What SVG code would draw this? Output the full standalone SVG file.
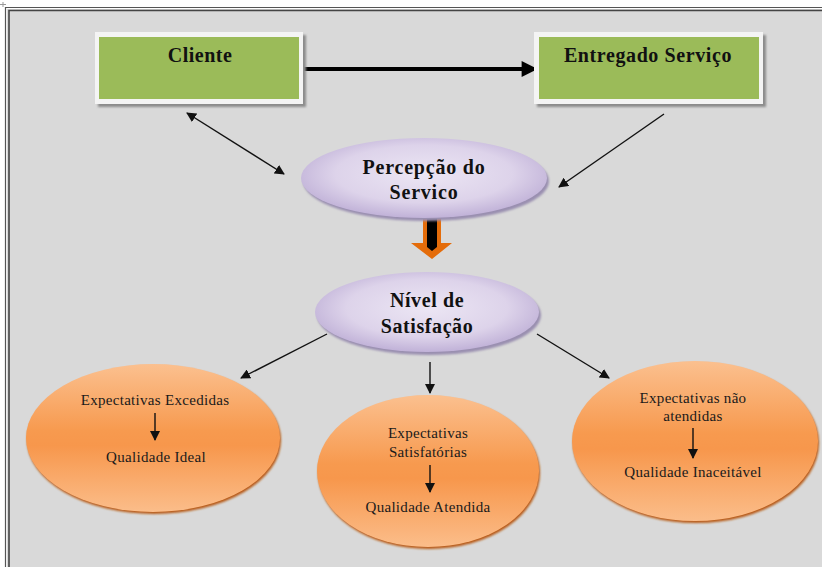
<svg xmlns="http://www.w3.org/2000/svg" width="822" height="567" viewBox="0 0 822 567">
  <defs>
    <style>
      .title { font-family: "Liberation Serif", "Times New Roman", serif; font-weight: bold; font-size: 20px; fill: #111; text-anchor: middle; }
      .small { font-family: "Liberation Serif", "Times New Roman", serif; font-size: 15px; fill: #1a1a1a; text-anchor: middle; letter-spacing: 0.3px; }
      .thin { stroke: #111; stroke-width: 1.4; fill: none; }
    </style>
    <radialGradient id="lav" cx="50%" cy="45%" r="60%">
      <stop offset="0" stop-color="#ece6f4"/>
      <stop offset="0.6" stop-color="#ddd3ea"/>
      <stop offset="1" stop-color="#b9a9d3"/>
    </radialGradient>
    <linearGradient id="orange" x1="0" y1="0" x2="0" y2="1">
      <stop offset="0" stop-color="#fbc08f"/>
      <stop offset="0.45" stop-color="#f79a4f"/>
      <stop offset="0.55" stop-color="#f7974c"/>
      <stop offset="1" stop-color="#fbbd8a"/>
    </linearGradient>
    <filter id="sh" x="-10%" y="-10%" width="130%" height="130%">
      <feGaussianBlur stdDeviation="1.2"/>
    </filter>
    <marker id="ah" viewBox="0 0 10 10" refX="9" refY="5" markerWidth="10" markerHeight="10" markerUnits="userSpaceOnUse" orient="auto-start-reverse">
      <path d="M0,0 L10,5 L0,10 z" fill="#111"/>
    </marker>
    <marker id="ahBig" viewBox="0 0 10 10" refX="9" refY="5" markerWidth="4.5" markerHeight="4" orient="auto">
      <path d="M0,0 L10,5 L0,10 z" fill="#000"/>
    </marker>
  </defs>

  <!-- page background and frame -->
  <rect x="0" y="0" width="822" height="567" fill="#ffffff"/>
  <rect x="7" y="9" width="815" height="558" fill="#d9d9d9"/>
  <path d="M5.5,567 V7.5 H822" stroke="#555" stroke-width="1.2" fill="none"/>
  <path d="M9,567 V10.5 H822" stroke="#444" stroke-width="1.6" fill="none"/>
  <path d="M0,4.5 H6 M3,2 V7" stroke="#999" stroke-width="1"/>

  <!-- connectors -->
  <g id="connectors">
    <line x1="303" y1="69" x2="536" y2="69" stroke="#000" stroke-width="4" marker-end="url(#ahBig)"/>
    <line class="thin" x1="187" y1="113" x2="284" y2="174" marker-start="url(#ah)" marker-end="url(#ah)"/>
    <line class="thin" x1="664" y1="114" x2="559" y2="187" marker-end="url(#ah)"/>
    <line class="thin" x1="327" y1="334" x2="241" y2="378" marker-end="url(#ah)"/>
    <line class="thin" x1="430" y1="362" x2="430" y2="393" marker-end="url(#ah)"/>
    <line class="thin" x1="537" y1="334" x2="609" y2="378" marker-end="url(#ah)"/>
    <!-- block arrow between the two ellipses -->
    <path d="M423,216 H441 V243 H452 L432,259 L411,243 H423 Z" fill="#e46c0a"/>
    <path d="M427,217 H437 V247 L432,251 L427,247 Z" fill="#000"/>
  </g>

  <!-- Cliente -->
  <g id="cliente">
    <rect x="98" y="35" width="208" height="72" fill="#8c8c8c" filter="url(#sh)"/>
    <rect x="95" y="32" width="208" height="72" fill="#f4f4f4"/>
    <rect x="99" y="37" width="200" height="62" fill="#9bbb59"/>
    <text class="title" x="200" y="62" letter-spacing="0.5">Cliente</text>
  </g>

  <!-- Entregado Serviço -->
  <g id="entregado">
    <rect x="537" y="35" width="229" height="72" fill="#8c8c8c" filter="url(#sh)"/>
    <rect x="534" y="32" width="229" height="72" fill="#f4f4f4"/>
    <rect x="539" y="37" width="220" height="62" fill="#9bbb59"/>
    <text class="title" x="648" y="62" letter-spacing="0.6">Entregado Serviço</text>
  </g>

  <!-- Percepção do Servico -->
  <g id="percepcao">
    <ellipse cx="426" cy="181" rx="123" ry="40" fill="#9a8fb0" filter="url(#sh)"/>
    <ellipse cx="424" cy="178" rx="123" ry="40" fill="url(#lav)"/>
    <text class="title" x="424" y="174" letter-spacing="0.8">Percepção do</text>
    <text class="title" x="424" y="199" letter-spacing="0.8">Servico</text>
  </g>

  <!-- Nível de Satisfação -->
  <g id="nivel">
    <ellipse cx="429" cy="315" rx="112" ry="40" fill="#9a8fb0" filter="url(#sh)"/>
    <ellipse cx="427" cy="312" rx="112" ry="40" fill="url(#lav)"/>
    <text class="title" x="427" y="307" letter-spacing="0.6">Nível de</text>
    <text class="title" x="427" y="333" letter-spacing="0.6">Satisfação</text>
  </g>

  <!-- Expectativas Excedidas -->
  <g id="excedidas">
    <ellipse cx="154" cy="440" rx="127" ry="74" fill="#b85a14" filter="url(#sh)"/>
    <ellipse cx="153" cy="438" rx="127" ry="74" fill="url(#orange)"/>
    <text class="small" x="155" y="405">Expectativas Excedidas</text>
    <line class="thin" x1="155" y1="413" x2="155" y2="440" marker-end="url(#ah)"/>
    <text class="small" x="156" y="462">Qualidade Ideal</text>
  </g>

  <!-- Expectativas Satisfatórias -->
  <g id="satisfatorias">
    <ellipse cx="429" cy="473" rx="111" ry="76" fill="#b85a14" filter="url(#sh)"/>
    <ellipse cx="428" cy="471" rx="111" ry="76" fill="url(#orange)"/>
    <text class="small" x="428" y="438">Expectativas</text>
    <text class="small" x="428" y="457">Satisfatórias</text>
    <line class="thin" x1="430" y1="465" x2="430" y2="492" marker-end="url(#ah)"/>
    <text class="small" x="428" y="512">Qualidade Atendida</text>
  </g>

  <!-- Expectativas não atendidas -->
  <g id="nao-atendidas">
    <ellipse cx="696" cy="443" rx="123" ry="80" fill="#b85a14" filter="url(#sh)"/>
    <ellipse cx="695" cy="441" rx="123" ry="80" fill="url(#orange)"/>
    <text class="small" x="693" y="403">Expectativas não</text>
    <text class="small" x="693" y="421">atendidas</text>
    <line class="thin" x1="693" y1="428" x2="693" y2="458" marker-end="url(#ah)"/>
    <text class="small" x="693" y="477">Qualidade Inaceitável</text>
  </g>
</svg>
